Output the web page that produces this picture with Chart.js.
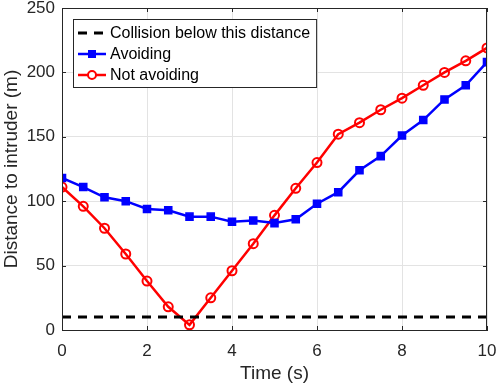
<!DOCTYPE html>
<html>
<head>
<meta charset="utf-8">
<script src="https://cdn.jsdelivr.net/npm/chart.js@4/dist/chart.umd.min.js"></script>
<style>
  html, body { margin: 0; padding: 0; background: #fff; }
  #wrap { width: 498px; height: 389px; }
</style>
</head>
<body>
<div id="wrap"><canvas id="distChart"></canvas></div>
<script>
// time samples (s)
const times = [0, 0.5, 1, 1.5, 2, 2.5, 3, 3.5, 4, 4.5, 5, 5.5, 6, 6.5, 7, 7.5, 8, 8.5, 9, 9.5, 10];
// distance to intruder (m)
const avoiding = [118, 111, 103, 100, 94, 93, 88, 88, 84, 85, 83, 86, 98, 107, 124, 135, 151, 163, 179, 190, 208];
const notAvoiding = [111, 96, 79, 59, 38, 18, 4, 25, 46, 67, 89, 110, 130, 152, 161, 171, 180, 190, 200, 209, 219];
const collisionDistance = 10;
const timeRange = [0, 10];
const xTickStep = 2;
const yTickStep = 50;
const yRange = [0, 250];

const labelNames = ["Collision below this distance", "Avoiding", "Not avoiding"];

const FONT = "'Liberation Sans', Arial, sans-serif";
const INK = "#262626";

function toPoints(ys) {
    return ys.map((y, i) => ({ x: times[i], y: y }));
}

// MATLAB-ish box around axes + inward ticks + legend box
const boxPlugin = {
    id: "boxPlugin",
    afterDraw(chart) {
        const ctx = chart.ctx;
        const a = chart.chartArea;
        const xs = chart.scales.x, ys = chart.scales.y;
        ctx.save();
        ctx.strokeStyle = INK;
        ctx.lineWidth = 1;
        ctx.strokeRect(a.left + 0.5, a.top + 0.5, a.right - a.left - 1, a.bottom - a.top);
        // inward tick marks
        ctx.beginPath();
        xs.ticks.forEach(t => {
            const px = Math.round(xs.getPixelForValue(t.value)) + 0.5;
            ctx.moveTo(px, a.bottom); ctx.lineTo(px, a.bottom - 4);
            ctx.moveTo(px, a.top); ctx.lineTo(px, a.top + 4);
        });
        ys.ticks.forEach(t => {
            const py = Math.round(ys.getPixelForValue(t.value)) + 0.5;
            ctx.moveTo(a.left, py); ctx.lineTo(a.left + 4, py);
            ctx.moveTo(a.right, py); ctx.lineTo(a.right - 4, py);
        });
        ctx.stroke();

        // legend
        ctx.font = "16px " + FONT;
        const bx = a.left + 11, by = a.top + 11;
        const rowH = 21;
        let maxW = 0;
        labelNames.forEach(n => { maxW = Math.max(maxW, ctx.measureText(n).width); });
        const bw = 37 + maxW + 6, bh = 68;
        ctx.fillStyle = "#fff";
        ctx.fillRect(bx, by, bw, bh);
        ctx.strokeStyle = INK;
        ctx.strokeRect(bx + 0.5, by + 0.5, bw, bh);
        chart.data.datasets.forEach((ds, i) => {
            const cy = by + 14 + i * rowH;
            ctx.save();
            ctx.strokeStyle = ds.borderColor;
            ctx.lineWidth = ds.borderWidth;
            ctx.setLineDash(ds.borderDash || []);
            ctx.beginPath();
            ctx.moveTo(bx + 5, cy); ctx.lineTo(bx + 33, cy);
            ctx.stroke();
            ctx.setLineDash([]);
            if (ds.pointRadius > 0) {
                ctx.lineWidth = 2;
                if (ds.pointStyle === "rect") {
                    ctx.fillStyle = ds.pointBackgroundColor;
                    ctx.fillRect(bx + 19 - 4, cy - 4, 8, 8);
                } else {
                    ctx.beginPath();
                    ctx.arc(bx + 19, cy, 4, 0, Math.PI * 2);
                    ctx.fillStyle = "#fff";
                    ctx.fill();
                    ctx.stroke();
                }
            }
            ctx.restore();
            ctx.fillStyle = "#000";
            ctx.textBaseline = "middle";
            ctx.fillText(labelNames[i], bx + 37, cy + 1);
        });
        ctx.restore();
    }
};

const ctx = document.getElementById("distChart").getContext("2d");
new Chart(ctx, {
    type: "line",
    data: {
        datasets: [
            {
                label: labelNames[0],
                data: [{ x: timeRange[0], y: collisionDistance }, { x: timeRange[1], y: collisionDistance }],
                borderColor: "#000",
                borderWidth: 3,
                borderDash: [9, 7],
                pointRadius: 0,
            },
            {
                label: labelNames[1],
                data: toPoints(avoiding),
                borderColor: "#0000ff",
                borderWidth: 2.5,
                pointStyle: "rect",
                pointRadius: 5,
                pointBackgroundColor: "#0000ff",
                pointBorderColor: "#0000ff",
                pointBorderWidth: 1.5,
            },
            {
                label: labelNames[2],
                data: toPoints(notAvoiding),
                borderColor: "#ff0000",
                borderWidth: 2.5,
                pointStyle: "circle",
                pointRadius: 4.5,
                pointBackgroundColor: "rgba(255,255,255,0)",
                pointBorderColor: "#ff0000",
                pointBorderWidth: 2,
            },
        ],
    },
    options: {
        responsive: true,
        maintainAspectRatio: false,
        animation: false,
        layout: { padding: { left: 0, right: 11, top: 8, bottom: 0 } },
        plugins: {
            legend: { display: false },
            tooltip: { enabled: false },
        },
        scales: {
            x: {
                type: "linear",
                min: timeRange[0],
                max: timeRange[1],
                grid: { color: "#e3e3e3", drawTicks: false },
                border: { color: INK },
                ticks: { stepSize: xTickStep, color: INK, font: { family: FONT, size: 17 }, padding: 11 },
                title: { display: true, text: "Time (s)", color: INK, font: { family: FONT, size: 19 }, padding: { top: 0, bottom: 4 } },
                afterFit: function (scale) {
                    scale.height = 59;
                    scale.paddingLeft = 0;
                    scale.paddingRight = 0;
                },
            },
            y: {
                min: yRange[0],
                max: yRange[1],
                grid: { color: "#e3e3e3", drawTicks: false },
                border: { color: INK },
                ticks: { stepSize: yTickStep, color: INK, font: { family: FONT, size: 17 }, padding: 7 },
                title: { display: true, text: "Distance to intruder (m)", color: INK, font: { family: FONT, size: 19 }, padding: { top: 0, bottom: 0 } },
                afterFit: function (scale) {
                    scale.width = 62;
                    scale.paddingTop = 0;
                    scale.paddingBottom = 0;
                },
            },
        },
    },
    plugins: [boxPlugin],
});
</script>
</body>
</html>
